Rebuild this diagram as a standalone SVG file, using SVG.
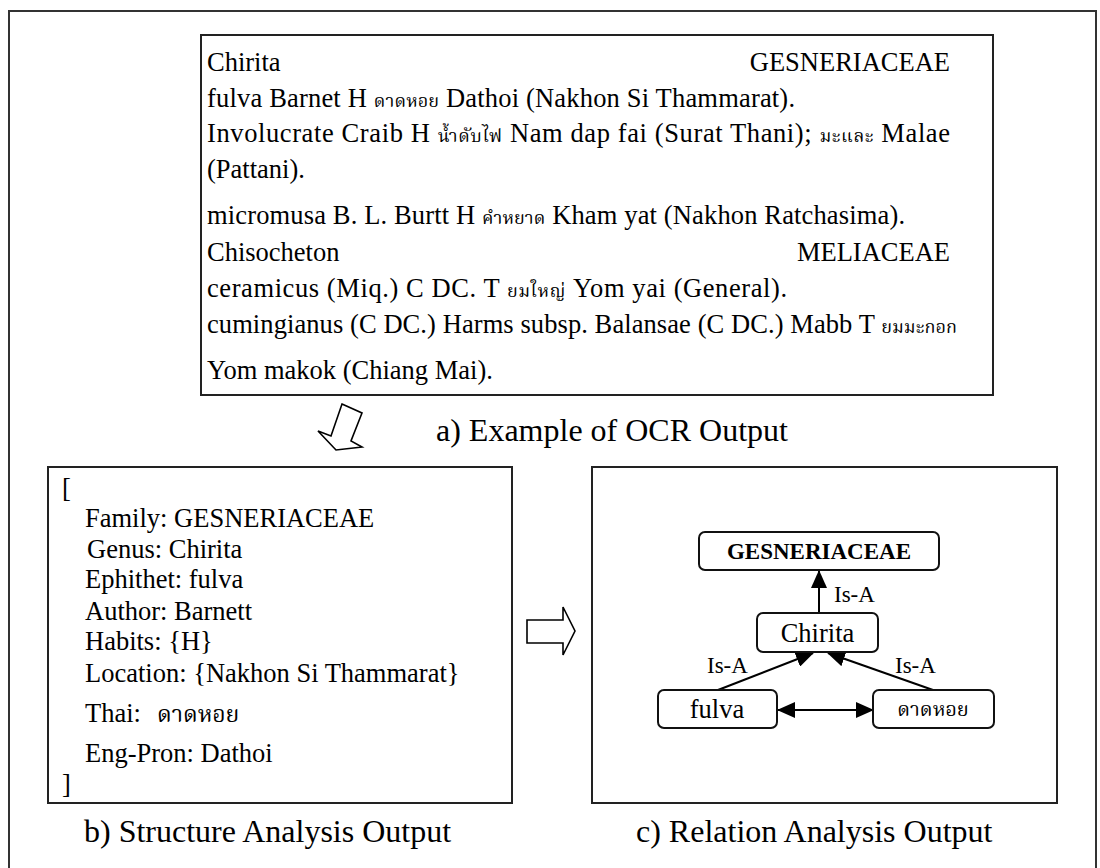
<svg xmlns="http://www.w3.org/2000/svg" width="1100" height="868" viewBox="0 0 1100 868">
<style>
text{font-family:"Liberation Serif","Times New Roman",serif;fill:#000}
.b{font-size:26.5px}
.cap{font-size:32px}
.lbl{font-size:23px}
.th{font-family:"Norasi","Noto Serif Thai","Noto Sans Thai","Garuda","Loma","DejaVu Sans",sans-serif}
.box{fill:#fff;stroke:#222;stroke-width:2}
.node{fill:#fff;stroke:#111;stroke-width:2}
.edge{stroke:#000;stroke-width:2;fill:none}
.blk{fill:#fff;stroke:#000;stroke-width:1.6;stroke-linejoin:miter}
</style>
<defs>
<marker id="ah" markerUnits="userSpaceOnUse" markerWidth="18" markerHeight="16" viewBox="0 0 18 16" refX="17" refY="8" orient="auto-start-reverse">
<path d="M0,0 L18,8 L0,16 z" fill="#000"/>
</marker>
</defs>
<rect id="frame" x="9" y="11" width="1087" height="900" fill="none" stroke="#333" stroke-width="2"/>

<g id="ocr-box">
<rect class="box" x="201" y="35" width="792" height="360"/>
<text class="b" x="207" y="71">Chirita</text>
<text class="b" x="950" y="71" text-anchor="end">GESNERIACEAE</text>
<text class="b" x="207" y="107" textLength="588" lengthAdjust="spacing">fulva Barnet H <tspan class="th" font-size="18">ดาดหอย</tspan> Dathoi (Nakhon Si Thammarat).</text>
<text class="b" x="207" y="142" textLength="743" lengthAdjust="spacing">Involucrate Craib H <tspan class="th" font-size="18">น้ำดับไฟ</tspan> Nam dap fai (Surat Thani); <tspan class="th" font-size="18">มะและ</tspan> Malae</text>
<text class="b" x="207" y="178">(Pattani).</text>
<text class="b" x="207" y="224" textLength="698" lengthAdjust="spacing">micromusa B. L. Burtt H <tspan class="th" font-size="18">คำหยาด</tspan> Kham yat (Nakhon Ratchasima).</text>
<text class="b" x="207" y="261">Chisocheton</text>
<text class="b" x="950" y="261" text-anchor="end">MELIACEAE</text>
<text class="b" x="207" y="297" textLength="580" lengthAdjust="spacing">ceramicus (Miq.) C DC. T <tspan class="th" font-size="18">ยมใหญ่</tspan> Yom yai (General).</text>
<text class="b" x="207" y="333" textLength="750" lengthAdjust="spacing">cumingianus (C DC.) Harms subsp. Balansae (C DC.) Mabb T <tspan class="th" font-size="18">ยมมะกอก</tspan></text>
<text class="b" x="207" y="379">Yom makok (Chiang Mai).</text>
</g>

<g id="arrow-down">
<polygon class="blk" points="342,404 362,413 351,441 362,447 336,450 318,431 331,436"/>
</g>
<text id="cap-a" class="cap" x="436" y="441">a) Example of OCR Output</text>

<g id="structure-box">
<rect class="box" x="48" y="467" width="464" height="336"/>
<text class="b" x="62" y="497">[</text>
<text class="b" x="85" y="527">Family: GESNERIACEAE</text>
<text class="b" x="87" y="558">Genus: Chirita</text>
<text class="b" x="85" y="588">Ephithet: fulva</text>
<text class="b" x="85" y="620">Author: Barnett</text>
<text class="b" x="85" y="650">Habits: {H}</text>
<text class="b" x="85" y="682">Location: {Nakhon Si Thammarat}</text>
<text class="b" x="85" y="722">Thai: <tspan class="th" x="157" font-size="23">ดาดหอย</tspan></text>
<text class="b" x="85" y="762">Eng-Pron: Dathoi</text>
<text class="b" x="62" y="793">]</text>
</g>
<text id="cap-b" class="cap" x="84" y="842">b) Structure Analysis Output</text>

<g id="arrow-right">
<polygon class="blk" points="527,620 563,620 563,607 575,631 563,655 563,643 527,643"/>
</g>

<g id="relation-box">
<rect class="box" x="592" y="467" width="465" height="336"/>
</g>
<text id="cap-c" class="cap" x="636" y="842">c) Relation Analysis Output</text>

<g id="connectors">
<line class="edge" x1="819" y1="613" x2="819" y2="571" marker-end="url(#ah)"/>
<line class="edge" x1="718" y1="690" x2="813" y2="653" marker-end="url(#ah)"/>
<line class="edge" x1="933" y1="690" x2="828" y2="653" marker-end="url(#ah)"/>
<line class="edge" x1="778" y1="710" x2="873" y2="710" marker-start="url(#ah)" marker-end="url(#ah)"/>
<text class="lbl" x="834" y="602">Is-A</text>
<text class="lbl" x="707" y="673">Is-A</text>
<text class="lbl" x="895" y="673">Is-A</text>
</g>

<g id="node-gesneriaceae">
<rect class="node" x="699" y="532" width="240" height="38" rx="6"/>
<text x="819" y="559" font-size="23" font-weight="bold" text-anchor="middle">GESNERIACEAE</text>
</g>
<g id="node-chirita">
<rect class="node" x="757" y="613" width="121" height="39" rx="6"/>
<text class="b" x="817.5" y="642" text-anchor="middle">Chirita</text>
</g>
<g id="node-fulva">
<rect class="node" x="658" y="690" width="119" height="38" rx="6"/>
<text class="b" x="717" y="718" text-anchor="middle">fulva</text>
</g>
<g id="node-thai">
<rect class="node" x="873" y="690" width="121" height="38" rx="6"/>
<text class="th" x="933" y="716" font-size="20" text-anchor="middle">ดาดหอย</text>
</g>
</svg>
